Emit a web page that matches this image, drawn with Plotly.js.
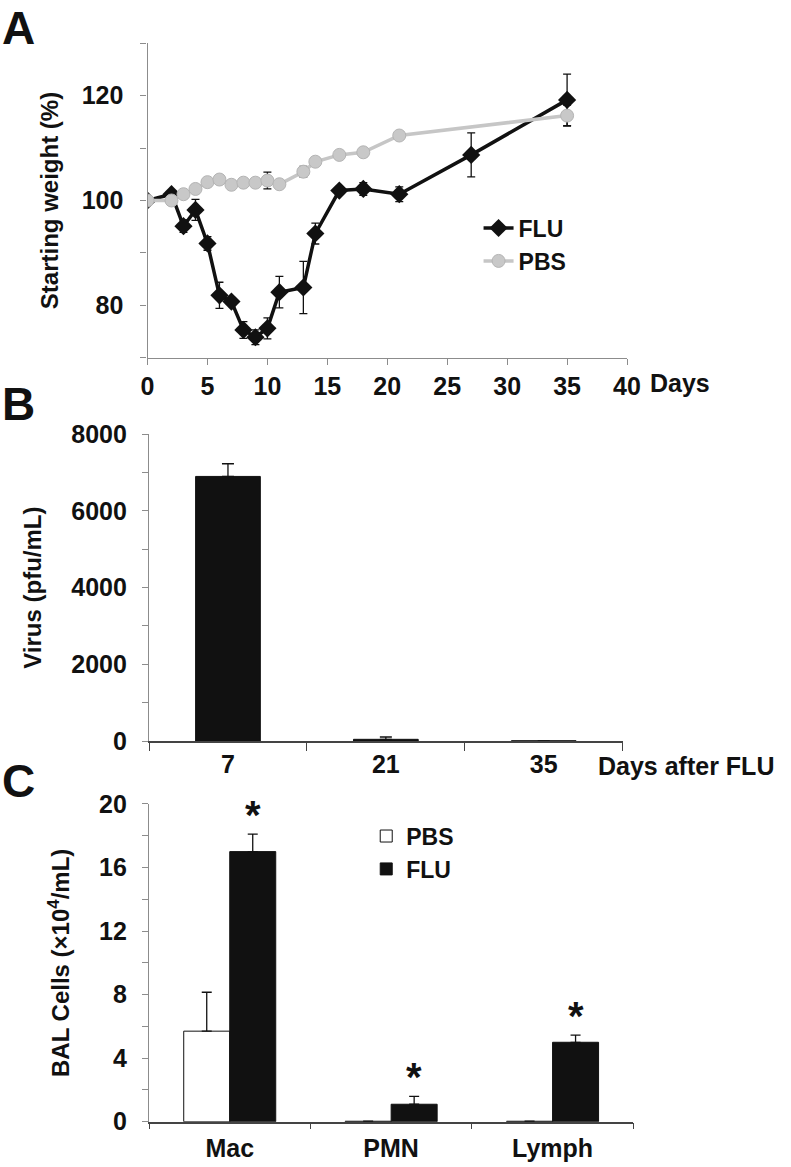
<!DOCTYPE html>
<html>
<head>
<meta charset="utf-8">
<script src="https://cdn.plot.ly/plotly-3.0.1.min.js"></script>
<style>
  body { margin: 0; background: #fff; }
  #chart { width: 791px; height: 1167px; }
</style>
</head>
<body>
<div id="chart"></div>
<script>
// Panel A: body weight over time
const fluDays = [0, 2, 3, 4, 5, 6, 7, 8, 9, 10, 11, 13, 14, 16, 18, 21, 27, 35];
const fluWeight = [100, 101.2, 95.1, 98.2, 91.8, 81.9, 80.7, 75.3, 73.9, 75.6, 82.5, 83.4, 93.7, 101.9, 102.2, 101.2, 108.7, 119.2];
const fluWeightErr = [0.3, 0.5, 1.2, 2.0, 1.3, 2.5, 0.6, 1.6, 1.4, 2.0, 3.0, 5.0, 2.0, 0.7, 1.2, 1.4, 4.2, 4.9];
const pbsDays = [0, 2, 3, 4, 5, 6, 7, 8, 9, 10, 11, 13, 14, 16, 18, 21, 35];
const pbsWeight = [100, 100, 101.2, 102.2, 103.5, 104.0, 103.0, 103.4, 103.4, 103.8, 103.1, 105.5, 107.4, 108.7, 109.2, 112.4, 116.2];
const pbsWeightErr = [0.3, 0.3, 0.4, 0.4, 0.5, 0.5, 0.4, 0.5, 0.5, 1.6, 0.5, 1.0, 0.6, 0.6, 0.8, 0.6, 2.0];

// Panel B: lung virus titer
const virusDays = ["7", "21", "35"];
const virusTiter = [6900, 45, 5];
const virusErr = [330, 60, 0];

// Panel C: BAL cells
const cellTypes = ["Mac", "PMN", "Lymph"];
const pbsCells = [5.7, 0.03, 0.03];
const pbsCellsErr = [2.45, 0, 0];
const fluCells = [17.0, 1.1, 5.0];
const fluCellsErr = [1.1, 0.5, 0.45];

const FONT = "Liberation Sans, Arial, sans-serif";
const tickFont = {family: FONT, size: 25, color: "#111", weight: "bold"};
const titleFont = {family: FONT, size: 24, color: "#111", weight: "bold"};
const legendFont = {family: FONT, size: 23, color: "#111", weight: "bold"};
const letterFont = {family: FONT, size: 46, color: "#111", weight: "bold"};
const axisGray = "#8c8c8c";

const data = [
    {
        x: fluDays, y: fluWeight, name: "FLU", type: "scatter", mode: "lines+markers",
        line: {color: "#111", width: 3.5},
        marker: {symbol: "diamond", size: 14, color: "#111"},
        error_y: {type: "data", array: fluWeightErr, color: "#111", thickness: 1.3, width: 4},
        xaxis: "x", yaxis: "y", legend: "legend"
    },
    {
        x: pbsDays, y: pbsWeight, name: "PBS", type: "scatter", mode: "lines+markers",
        line: {color: "#c6c6c6", width: 3.5},
        marker: {symbol: "circle", size: 13, color: "#c8c8c8", line: {color: "#b4b4b4", width: 1}},
        error_y: {type: "data", array: pbsWeightErr, color: "#111", thickness: 1.3, width: 4},
        xaxis: "x", yaxis: "y", legend: "legend"
    },
    {
        x: virusDays, y: virusTiter, type: "bar", showlegend: false, width: 0.41,
        marker: {color: "#111", line: {color: "#111", width: 1}},
        error_y: {type: "data", symmetric: false, array: virusErr, arrayminus: [0, 0, 0], color: "#111", thickness: 1.3, width: 6},
        xaxis: "x2", yaxis: "y2"
    },
    {
        x: cellTypes, y: pbsCells, name: "PBS", type: "bar",
        marker: {color: "#fff", line: {color: "#111", width: 1}},
        error_y: {type: "data", symmetric: false, array: pbsCellsErr, arrayminus: [0, 0, 0], color: "#111", thickness: 1.3, width: 5},
        xaxis: "x3", yaxis: "y3", legend: "legend2"
    },
    {
        x: cellTypes, y: fluCells, name: "FLU", type: "bar",
        marker: {color: "#111", line: {color: "#111", width: 1}},
        error_y: {type: "data", symmetric: false, array: fluCellsErr, arrayminus: [0, 0, 0], color: "#111", thickness: 1.3, width: 5},
        xaxis: "x3", yaxis: "y3", legend: "legend2"
    }
];

// significance stars above the FLU bars
const stars = cellTypes.map((c, i) => ({
    x: c, y: fluCells[i] + fluCellsErr[i], xref: "x3", yref: "y3",
    text: "*", showarrow: false, xshift: 23, yshift: -5, yanchor: "bottom",
    font: {family: FONT, size: 40, color: "#111", weight: "bold"}
}));

const layout = {
    width: 791, height: 1167,
    margin: {l: 0, r: 0, t: 0, b: 0},
    paper_bgcolor: "#fff", plot_bgcolor: "#fff",
    showlegend: true,
    barmode: "group", bargap: 0.43, bargroupgap: 0,
    xaxis: {
        domain: [0.1865, 0.7927], range: [0, 40], dtick: 5, tick0: 0,
        showline: true, linecolor: axisGray, linewidth: 1.3, showgrid: false, zeroline: false,
        ticks: "outside", ticklen: 6, tickcolor: axisGray, tickfont: tickFont, ticklabelstandoff: 0,
        anchor: "y"
    },
    yaxis: {
        domain: [0.6935, 0.9629], range: [70, 130], dtick: 20, tick0: 0,
        showline: true, linecolor: axisGray, linewidth: 1.3, showgrid: false, zeroline: false,
        ticks: "outside", ticklen: 6, tickcolor: axisGray, tickfont: tickFont, ticklabelstandoff: 12,
        minor: {dtick: 10, tick0: 0, ticks: "outside", ticklen: 6, tickcolor: axisGray, showgrid: false},
        title: {text: "Starting weight (%)", font: titleFont, standoff: 16},
        anchor: "x"
    },
    xaxis2: {
        domain: [0.1884, 0.7872], range: [-0.5, 2.5], type: "category", tickson: "boundaries",
        showline: true, linecolor: "#444", linewidth: 1.5, showgrid: false, zeroline: false,
        ticks: "outside", ticklen: 8, tickcolor: "#444", tickfont: tickFont, ticklabelstandoff: 0,
        anchor: "y2"
    },
    yaxis2: {
        domain: [0.3650, 0.6279], range: [0, 8000], dtick: 2000, tick0: 0,
        showline: true, linecolor: axisGray, linewidth: 1.3, showgrid: false, zeroline: false,
        ticks: "outside", ticklen: 6, tickcolor: axisGray, tickfont: tickFont, ticklabelstandoff: 10,
        minor: {dtick: 1000, tick0: 0, ticks: "outside", ticklen: 6, tickcolor: axisGray, showgrid: false},
        title: {text: "Virus (pfu/mL)", font: titleFont, standoff: 22},
        anchor: "x2"
    },
    xaxis3: {
        domain: [0.1884, 0.8006], range: [-0.5, 2.5], type: "category", tickson: "boundaries",
        showline: true, linecolor: "#444", linewidth: 1.5, showgrid: false, zeroline: false,
        ticks: "outside", ticklen: 6, tickcolor: "#444", tickfont: tickFont, ticklabelstandoff: 4,
        anchor: "y3"
    },
    yaxis3: {
        domain: [0.0388, 0.3111], range: [0, 20], dtick: 4, tick0: 0,
        showline: true, linecolor: axisGray, linewidth: 1.3, showgrid: false, zeroline: false,
        ticks: "outside", ticklen: 6, tickcolor: axisGray, tickfont: tickFont, ticklabelstandoff: 10,
        minor: {dtick: 2, tick0: 0, ticks: "outside", ticklen: 6, tickcolor: axisGray, showgrid: false},
        title: {text: "BAL Cells (×10<sup>4</sup>/mL)", font: titleFont, standoff: 22},
        anchor: "x3"
    },
    legend: {
        x: 0.605, y: 0.823, xanchor: "left", yanchor: "top",
        bgcolor: "rgba(0,0,0,0)", font: legendFont,
        itemwidth: 30, tracegroupgap: 0
    },
    legend2: {
        x: 0.463, y: 0.302, xanchor: "left", yanchor: "top",
        bgcolor: "rgba(0,0,0,0)", font: legendFont,
        itemwidth: 30, tracegroupgap: 0
    },
    annotations: [
        {text: "A", x: 0, y: 1, xref: "paper", yref: "paper", xanchor: "left", yanchor: "top", showarrow: false,
         font: letterFont},
        {text: "B", x: 0, y: 1 - 376 / 1167, xref: "paper", yref: "paper", xanchor: "left", yanchor: "top", showarrow: false,
         font: letterFont},
        {text: "C", x: 0, y: 1 - 753 / 1167, xref: "paper", yref: "paper", xanchor: "left", yanchor: "top", showarrow: false,
         font: letterFont},
        {text: "Days", x: 648 / 791, y: 1 - 383 / 1167, xref: "paper", yref: "paper", xanchor: "left", yanchor: "middle", showarrow: false,
         font: tickFont},
        {text: "Days after FLU", x: 596 / 791, y: 1 - 766 / 1167, xref: "paper", yref: "paper", xanchor: "left", yanchor: "middle", showarrow: false,
         font: tickFont},
        ...stars
    ]
};

Plotly.newPlot("chart", data, layout, {displayModeBar: false});
</script>
</body>
</html>
